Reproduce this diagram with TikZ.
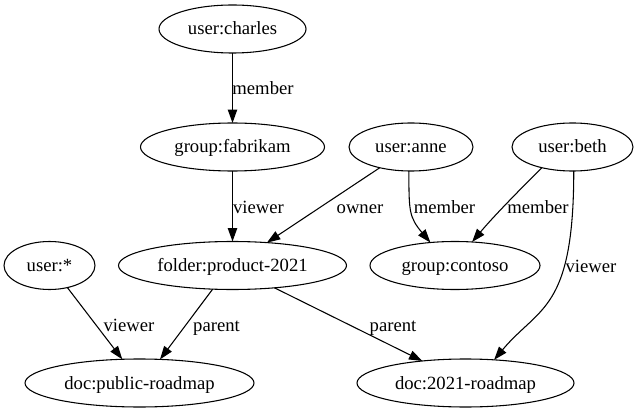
\documentclass[tikz,border=0pt]{standalone}
\usepackage{fontspec}
\setmainfont{Liberation Serif}
\usetikzlibrary{shapes.geometric,arrows.meta}
\begin{document}
\begin{tikzpicture}[x=0.75pt,y=-0.75pt,
  ent/.style={draw,ellipse,line width=0.8pt,inner sep=0pt,outer sep=0pt,minimum height=36pt,
    text height=11.8pt,text depth=2.8pt,font=\fontsize{14pt}{16pt}\selectfont},
  lab/.style={inner sep=0pt,text height=11.8pt,text depth=2.8pt,font=\fontsize{14pt}{16pt}\selectfont},
  rel/.style={draw,line width=0.8pt,-{Triangle[length=10pt,width=7pt]}}]
\useasboundingbox (0,0) rectangle (638,413);
% nodes
\node[ent,minimum width=110.25pt] (charles) at (232.5,29) {user:charles};
\node[ent,minimum width=138pt] (fabrikam) at (232.5,147) {group:fabrikam};
\node[ent,minimum width=93pt] (anne) at (411,147) {user:anne};
\node[ent,minimum width=90.75pt] (beth) at (572.5,147) {user:beth};
\node[ent,minimum width=68.25pt] (star) at (49.5,265.5) {user:*};
\node[ent,minimum width=171pt] (folder) at (232.5,265.5) {folder:product-2021};
\node[ent,minimum width=127.5pt] (contoso) at (455,265.5) {group:contoso};
\node[ent,minimum width=171.75pt] (public) at (139.5,383) {doc:public-roadmap};
\node[ent,minimum width=162.75pt] (road) at (465.5,383) {doc:2021-roadmap};
% edges
\draw[rel] (charles.south) -- (fabrikam.north);
\draw[rel] (fabrikam.south) -- (folder.north);
\draw[rel] (anne) -- (folder);
\draw[rel] (anne.-95) to[out=-90,in=130,out distance=30pt,in distance=25pt] (contoso.137);
\draw[rel] (beth.214) to[out=225,in=50,out distance=25pt,in distance=25pt] (contoso.54);
\draw[rel] (beth.-87) to[out=-90,in=50,out distance=105pt,in distance=52.5pt] (road.39);
\draw[rel] (star.-51) -- (public.126);
\draw[rel] (folder.230) -- (public.49);
\draw[rel] (folder.-28) -- (road.153);
% labels
\node[lab] (l1) at (263,89) {member};
\node[lab] (l2) at (258.5,208) {viewer};
\node[lab] (l3) at (360,208) {owner};
\node[lab] (l4) at (444.5,208) {member};
\node[lab] (l5) at (538,208) {member};
\node[lab] (l6) at (591,266) {viewer};
\node[lab] (l7) at (129,325) {viewer};
\node[lab] (l8) at (216.5,325) {parent};
\node[lab] (l9) at (393,325) {parent};
\end{tikzpicture}
\end{document}
